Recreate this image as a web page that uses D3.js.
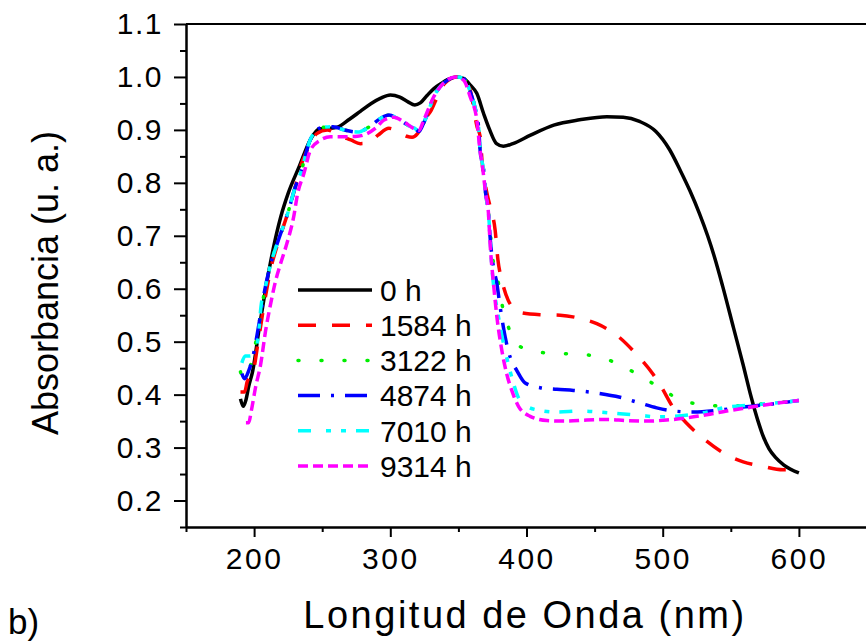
<!DOCTYPE html>
<html>
<head>
<meta charset="utf-8">
<script src="https://cdn.jsdelivr.net/npm/d3@7"></script>
<style>
  body { margin: 0; background: #fff; }
  svg { display: block; font-family: "Liberation Sans", Arial, sans-serif; }
</style>
</head>
<body>
<svg id="chart" width="866" height="643"></svg>
<script>
// tick values
const xMajor = [200, 300, 400, 500, 600];
const xMinor = [150, 250, 350, 450, 550, 650];
const yMajor = [0.2, 0.3, 0.4, 0.5, 0.6, 0.7, 0.8, 0.9, 1.0, 1.1];
const yMinor = [0.15, 0.25, 0.35, 0.45, 0.55, 0.65, 0.75, 0.85, 0.95, 1.05];

const seriesNames = ["0 h", "1584 h", "3122 h", "4874 h", "7010 h", "9314 h"];

// [wavelength nm, absorbance]
const h0 = [[190,0.392],[192,0.378],[194,0.39],[196,0.415],[199,0.445],[204,0.53],[208.5,0.60],[214,0.675],[219.5,0.735],[225,0.78],[233,0.83],[241,0.88],[248,0.902],[255,0.903],[261,0.905],[270,0.92],[278,0.935],[286,0.95],[293,0.96],[300,0.966],[307,0.962],[313,0.953],[318,0.947],[322,0.951],[327,0.965],[332,0.978],[337,0.987],[342,0.995],[349,1.0],[354,0.997],[359,0.984],[363.5,0.969],[368.5,0.931],[373,0.9],[378,0.874],[383,0.869],[390,0.874],[403,0.89],[420,0.909],[439,0.919],[459,0.925],[471,0.924],[483,0.916],[495,0.897],[505,0.863],[513,0.823],[520,0.785],[527,0.742],[533,0.70],[538,0.66],[544,0.605],[552,0.526],[559,0.457],[565,0.395],[570,0.35],[574,0.32],[578,0.298],[583,0.281],[589,0.267],[600,0.252]];

const h1584 = [[190,0.405],[193,0.405],[195,0.425],[199,0.44],[203,0.5],[207,0.565],[212,0.635],[218,0.69],[225,0.745],[230,0.79],[234,0.83],[239,0.862],[246,0.893],[253.7,0.9],[262,0.89],[271,0.881],[278,0.874],[284,0.875],[291,0.89],[299,0.903],[305,0.898],[312,0.888],[316,0.886],[320,0.893],[326,0.922],[330,0.937],[335,0.965],[340,0.988],[349,1.0],[354,0.997],[359,0.972],[363.7,0.906],[366,0.887],[367.3,0.843],[371,0.78],[373.4,0.754],[377,0.71],[379,0.655],[382,0.615],[386.8,0.577],[395.4,0.555],[410,0.551],[424.7,0.55],[439.4,0.544],[451.6,0.534],[468.7,0.507],[479.7,0.479],[493.1,0.438],[499.3,0.413],[507.8,0.375],[517.6,0.346],[532.3,0.312],[544.4,0.29],[559.1,0.273],[572.6,0.265],[588.4,0.258],[600,0.258]];

const h3122 = [[190,0.443],[192,0.43],[195,0.44],[199,0.47],[202,0.51],[205,0.555],[208,0.6],[212,0.645],[218,0.693],[225,0.745],[230,0.79],[234,0.817],[241,0.88],[246,0.9],[251,0.905],[258,0.906],[266,0.9],[276,0.896],[284,0.905],[293,0.922],[299,0.928],[305,0.922],[315,0.906],[318,0.903],[321,0.897],[324.5,0.913],[327,0.928],[332,0.963],[339,0.988],[349,1.0],[354,0.997],[358.7,0.972],[362.4,0.94],[364.8,0.906],[366,0.86],[368.5,0.824],[370,0.78],[372,0.748],[374,0.69],[375.8,0.647],[379.5,0.609],[382,0.571],[386.8,0.527],[396.6,0.489],[413.7,0.479],[430.8,0.477],[448,0.474],[463.8,0.462],[481,0.439],[498,0.413],[514,0.389],[531,0.381],[548,0.378],[565,0.381],[581,0.384],[600,0.389]];

const h4874 = [[191,0.44],[193,0.43],[196,0.445],[199,0.47],[202,0.51],[205,0.555],[208,0.6],[212,0.645],[218,0.693],[225,0.745],[230,0.79],[234,0.817],[241,0.88],[246,0.9],[251,0.905],[258,0.906],[266,0.9],[276,0.896],[284,0.905],[293,0.922],[299,0.928],[305,0.922],[315,0.906],[318,0.903],[321,0.897],[324.5,0.913],[327,0.928],[332,0.963],[339,0.988],[349,1.0],[354,0.997],[358.7,0.972],[362.4,0.94],[364.8,0.906],[366,0.86],[368.5,0.824],[370,0.78],[372,0.745],[373.5,0.69],[375.5,0.645],[378.3,0.609],[380.7,0.565],[384.4,0.508],[388.1,0.47],[393,0.445],[399,0.422],[410,0.413],[422.3,0.41],[434.5,0.408],[451.6,0.403],[468.7,0.395],[483.4,0.384],[495.6,0.375],[505.4,0.37],[522.4,0.367],[539.6,0.37],[556.6,0.376],[576.2,0.381],[600,0.389]];

const h7010 = [[191,0.46],[193.5,0.473],[197,0.473],[201,0.483],[203.5,0.52],[205,0.565],[208,0.6],[212,0.645],[218,0.693],[225,0.745],[230,0.79],[234,0.817],[241,0.88],[246,0.9],[251,0.905],[258,0.906],[266,0.9],[276,0.896],[284,0.905],[293,0.922],[299,0.928],[305,0.922],[315,0.906],[318,0.903],[321,0.897],[324.5,0.913],[327,0.928],[332,0.963],[339,0.988],[349,1.0],[354,0.997],[358.7,0.972],[362.4,0.94],[364.8,0.906],[366,0.86],[368.5,0.824],[370,0.78],[372,0.745],[374.6,0.64],[379.5,0.546],[384.4,0.482],[389.3,0.432],[394.1,0.394],[400.3,0.378],[410,0.37],[422.3,0.367],[439.4,0.369],[454.1,0.367],[468.7,0.364],[483.4,0.361],[495.6,0.358],[507.8,0.359],[520,0.362],[532.3,0.367],[544.5,0.375],[564.1,0.38],[581.1,0.384],[600,0.389]];

const h9314 = [[194,0.347],[196,0.347],[198,0.37],[201,0.413],[204.8,0.457],[208.4,0.52],[212.1,0.571],[215.8,0.615],[219.4,0.647],[224,0.685],[229,0.735],[232,0.78],[236.5,0.817],[241.4,0.862],[248.8,0.881],[256,0.887],[266,0.887],[276,0.888],[283,0.893],[290,0.905],[295,0.918],[302.5,0.924],[310,0.915],[317,0.903],[321,0.899],[324.5,0.918],[332,0.963],[341.6,0.994],[348,1.0],[353.8,0.994],[358.7,0.962],[363.6,0.918],[365.5,0.87],[368,0.824],[370,0.78],[372,0.745],[373.4,0.68],[375.8,0.609],[378.3,0.546],[382,0.482],[385.6,0.438],[389.3,0.407],[394.1,0.378],[402.7,0.359],[414.9,0.351],[429.6,0.35],[444.2,0.352],[458.9,0.353],[473.6,0.351],[488.3,0.35],[502.9,0.352],[517.6,0.356],[532.3,0.362],[547,0.369],[564.1,0.376],[581.1,0.383],[600,0.389]];

const seriesData = [h0, h1584, h3122, h4874, h7010, h9314];

const styles = [
    { color: "#000000", dash: null, cap: "butt" },
    { color: "#ff0000", dash: "18,16", cap: "butt" },
    { color: "#00ee00", dash: "1,22", cap: "round" },
    { color: "#0000ff", dash: "22,11,3,11", cap: "butt" },
    { color: "#00ffff", dash: "13,15,5,10,5,10", cap: "butt" },
    { color: "#ff00ff", dash: "10,5", cap: "butt" }
];

const svg = d3.select("#chart");
const plot = { left: 186, right: 867, top: 24, bottom: 527 };

const x = d3.scaleLinear().domain([150, 650]).range([plot.left, plot.right]);
const y = d3.scaleLinear().domain([0.15, 1.1]).range([plot.bottom, plot.top]);

// curves
const line = d3.line()
    .x(d => x(d[0]))
    .y(d => y(d[1]))
    .curve(d3.curveMonotoneX);

svg.append("g").selectAll("path")
    .data(seriesData)
    .join("path")
    .attr("d", line)
    .attr("fill", "none")
    .attr("stroke", (d, i) => styles[i].color)
    .attr("stroke-width", 3.5)
    .attr("stroke-linecap", (d, i) => styles[i].cap)
    .attr("stroke-linejoin", "round")
    .attr("stroke-dasharray", (d, i) => styles[i].dash);

// top frame
svg.append("line")
    .attr("x1", plot.left).attr("x2", plot.right)
    .attr("y1", plot.top).attr("y2", plot.top)
    .attr("stroke", "#000").attr("stroke-width", 2);

// axes
function styleAxis(g) {
    g.select(".domain").attr("stroke-width", 2);
    g.selectAll(".tick line").attr("stroke-width", 2);
}

svg.append("g")
    .attr("transform", `translate(0,${plot.bottom})`)
    .call(d3.axisBottom(x).tickValues(xMinor).tickSize(5).tickSizeOuter(0).tickFormat(""))
    .call(styleAxis);

svg.append("g")
    .attr("transform", `translate(0,${plot.bottom})`)
    .call(d3.axisBottom(x).tickValues(xMajor).tickSize(10).tickSizeOuter(0).tickPadding(11))
    .call(styleAxis)
    .call(g => g.selectAll(".tick text")
        .attr("font-size", 30).attr("letter-spacing", 2.5).attr("fill", "#000"));

svg.append("g")
    .attr("transform", `translate(${plot.left},0)`)
    .call(d3.axisLeft(y).tickValues(yMinor).tickSize(6).tickSizeOuter(0).tickFormat(""))
    .call(styleAxis);

svg.append("g")
    .attr("transform", `translate(${plot.left},0)`)
    .call(d3.axisLeft(y).tickValues(yMajor).tickSize(12).tickSizeOuter(0).tickPadding(11).tickFormat(d3.format(".1f")))
    .call(styleAxis)
    .call(g => g.selectAll(".tick text")
        .attr("font-size", 30).attr("letter-spacing", 1.5).attr("fill", "#000"));

// axis titles
svg.append("text")
    .attr("x", 525).attr("y", 628)
    .attr("text-anchor", "middle")
    .attr("font-size", 38)
    .attr("letter-spacing", 2.5)
    .text("Longitud de Onda (nm)");

svg.append("text")
    .attr("transform", "translate(58,283) rotate(-90)")
    .attr("text-anchor", "middle")
    .attr("font-size", 36)
    .text("Absorbancia (u. a.)");

svg.append("text")
    .attr("x", 8).attr("y", 634)
    .attr("font-size", 35)
    .text("b)");

// legend
const legend = svg.append("g");
const rows = legend.selectAll("g")
    .data(seriesNames)
    .join("g")
    .attr("transform", (d, i) => `translate(298,${290 + i * 35.2})`);

rows.append("line")
    .attr("x1", 0).attr("x2", 74)
    .attr("stroke", (d, i) => styles[i].color)
    .attr("stroke-width", 3.5)
    .attr("stroke-linecap", (d, i) => styles[i].cap)
    .attr("stroke-dasharray", (d, i) => styles[i].dash);

rows.append("text")
    .attr("x", 82).attr("dy", "0.36em")
    .attr("font-size", 30)
    .text(d => d);
</script>
</body>
</html>
